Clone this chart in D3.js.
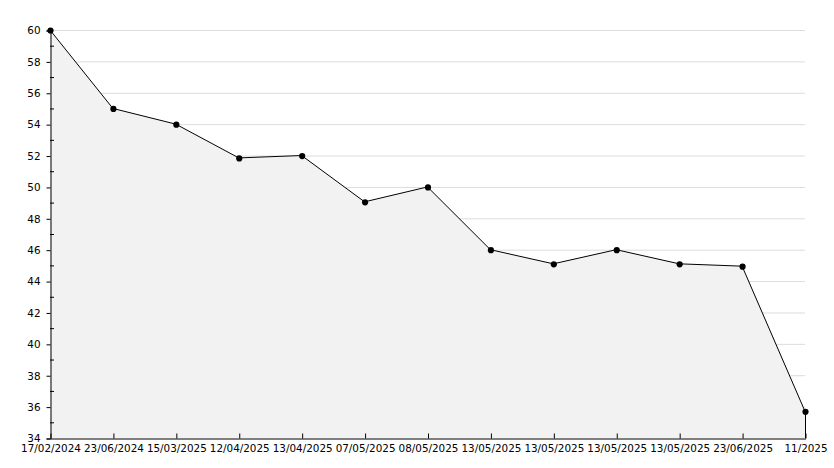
<!DOCTYPE html>
<html lang="en">
<head>
<meta charset="UTF-8">
<title>line area</title>
<script src="https://d3js.org/d3.v7.min.js"></script>
<style>
body { margin: 0; background: #fff; }
svg { display: block; }
.tick text { font: 10.4px "DejaVu Sans", sans-serif; fill: #000; }
</style>
</head>
<body>
<svg width="834" height="468"></svg>
<script>
var dates = ["17/02/2024", "23/06/2024", "15/03/2025", "12/04/2025", "13/04/2025",
    "07/05/2025", "08/05/2025", "13/05/2025", "13/05/2025", "13/05/2025",
    "13/05/2025", "23/06/2025", "11/2025"];
var values = [60, 55, 54, 51.85, 52, 49.05, 50, 46, 45.1, 46, 45.1, 44.95, 35.7];
var yTicks = [34, 36, 38, 40, 42, 44, 46, 48, 50, 52, 54, 56, 58, 60];

var svg = d3.select("svg"),
    plotLeft = 50, plotRight = 805, plotTop = 30, plotBottom = 438;

var x = d3.scaleLinear().domain([0, dates.length - 1]).range([plotLeft, plotRight]);
var y = d3.scaleLinear().domain([34, 60]).range([plotBottom, plotTop]);

// grid
svg.append("g")
    .selectAll("line")
    .data(yTicks.slice(1))
    .enter().append("line")
    .attr("x1", plotLeft).attr("x2", plotRight)
    .attr("y1", function(d) { return y(d) + 0.5; })
    .attr("y2", function(d) { return y(d) + 0.5; })
    .attr("stroke", "#dcdcdc");

var pts = values.map(function(v, i) { return [x(i), y(v)]; });

var area = d3.area()
    .x(function(d) { return d[0]; })
    .y0(plotBottom)
    .y1(function(d) { return d[1]; });

svg.append("path")
    .datum(pts)
    .attr("d", area)
    .attr("fill", "#f2f2f2");

svg.append("path")
    .datum(pts)
    .attr("d", d3.line())
    .attr("fill", "none")
    .attr("stroke", "#000")
    .attr("stroke-width", 1);

// right edge of the area
var last = pts[pts.length - 1];
svg.append("line")
    .attr("x1", last[0] + 0.5).attr("x2", last[0] + 0.5)
    .attr("y1", last[1]).attr("y2", plotBottom)
    .attr("stroke", "#000");

// y axis
var yAxis = svg.append("g")
    .attr("transform", "translate(" + (plotLeft + 0.5) + ",0.5)")
    .call(d3.axisLeft(y).tickValues(yTicks).tickSize(4).tickPadding(6).tickFormat(d3.format("d")));
yAxis.select(".domain").attr("stroke", "#000");

// minor ticks inside
svg.append("g")
    .selectAll("line")
    .data(d3.range(35, 60, 2))
    .enter().append("line")
    .attr("x1", plotLeft).attr("x2", plotLeft + 4)
    .attr("y1", function(d) { return y(d) + 0.5; })
    .attr("y2", function(d) { return y(d) + 0.5; })
    .attr("stroke", "#000");

// x axis
var xAxis = svg.append("g")
    .attr("transform", "translate(0.5," + (plotBottom + 0.5) + ")")
    .call(d3.axisBottom(x).tickValues(d3.range(dates.length)).tickSize(0).tickPadding(6)
        .tickFormat(function(i) { return dates[i]; }));
xAxis.select(".domain").attr("stroke", "#000");
xAxis.selectAll(".tick line").attr("y2", -5).attr("stroke", "#000");

// markers
svg.append("g")
    .selectAll("path")
    .data(pts)
    .enter().append("path")
    .attr("transform", function(d) { return "translate(" + (d[0] + 0.5) + "," + (d[1] + 0.5) + ")"; })
    .attr("d", d3.symbol().type(d3.symbolCircle).size(30))
    .attr("fill", "#000");
</script>
</body>
</html>
